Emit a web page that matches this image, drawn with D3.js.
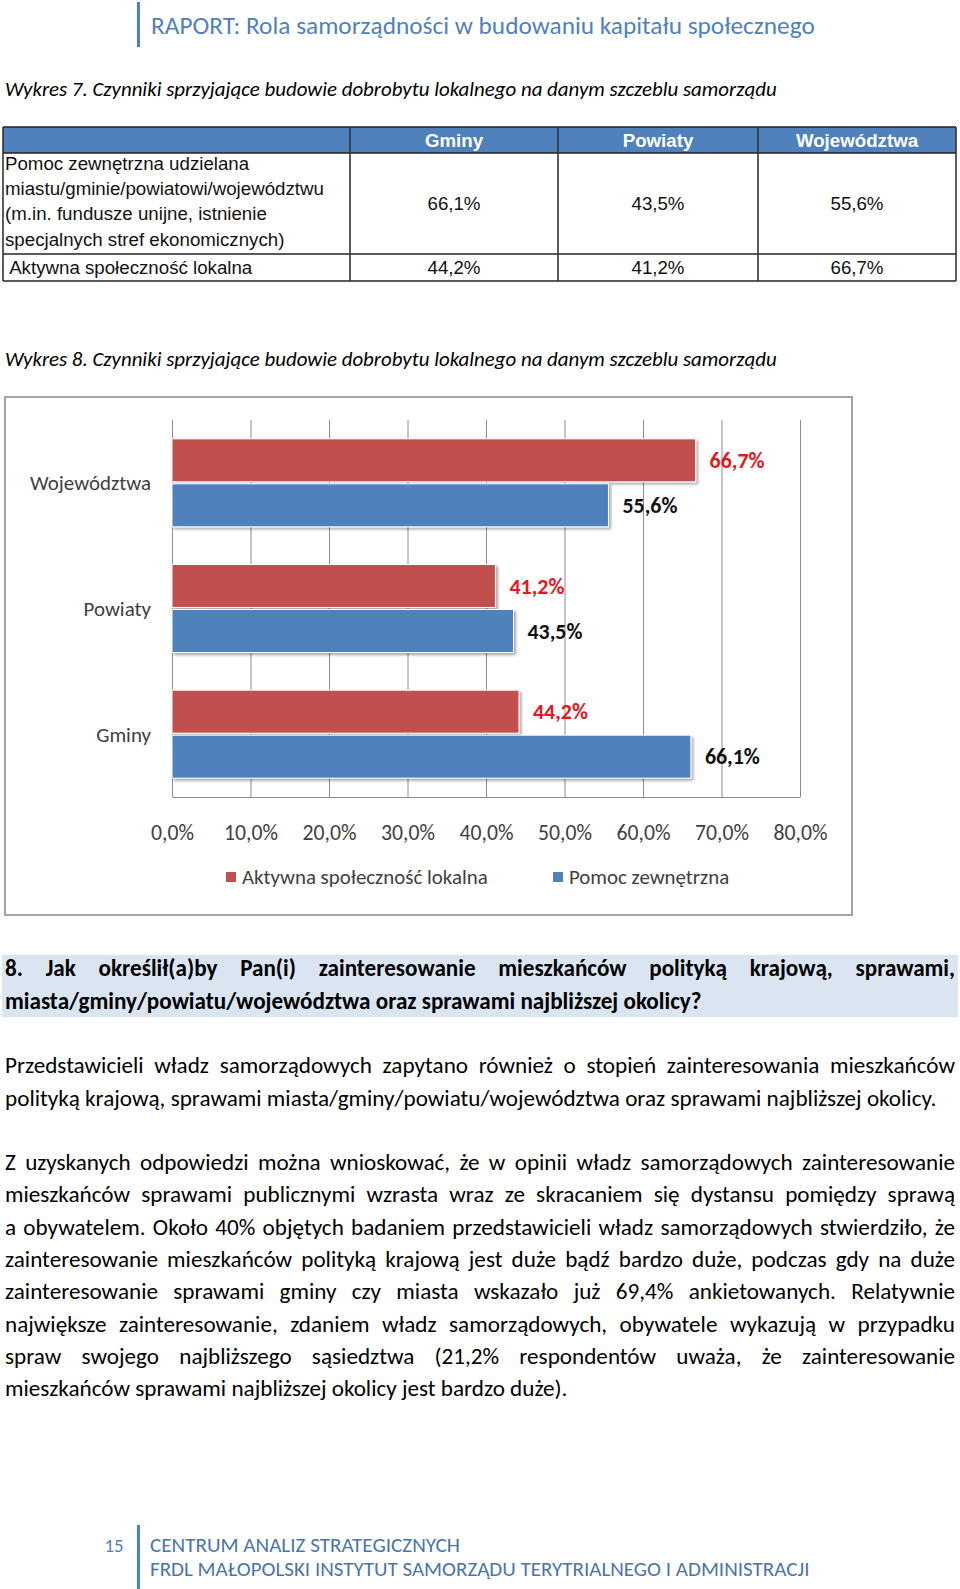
<!DOCTYPE html>
<html lang="pl">
<head>
<meta charset="utf-8">
<title>Wykres 8. Czynniki sprzyjające budowie dobrobytu lokalnego</title>
<script src="https://cdn.jsdelivr.net/npm/d3@7"></script>
<style>
  html, body { margin: 0; padding: 0; background: #fff; }
  svg { display: block; }
</style>
</head>
<body>
<svg id="page" width="960" height="1589"></svg>
<script>
// ---- data ----
const categories = ["Województwa", "Powiaty", "Gminy"];
const seriesNames = ["Aktywna społeczność lokalna", "Pomoc zewnętrzna"];
const aktywnaValues = [66.7, 41.2, 44.2];
const pomocValues = [55.6, 43.5, 66.1];
const xTicks = [0, 10, 20, 30, 40, 50, 60, 70, 80];

const tableColumns = ["Gminy", "Powiaty", "Województwa"];
const tableRowLabels = [
    ["Pomoc zewnętrzna udzielana", "miastu/gminie/powiatowi/województwu",
     "(m.in. fundusze unijne, istnienie", "specjalnych stref ekonomicznych)"],
    [" Aktywna społeczność lokalna"]
];

const headerTitle = "RAPORT: Rola samorządności w budowaniu kapitału społecznego";
const caption7 = "Wykres 7. Czynniki sprzyjające budowie dobrobytu lokalnego na danym szczeblu samorządu";
const caption8 = "Wykres 8. Czynniki sprzyjające budowie dobrobytu lokalnego na danym szczeblu samorządu";

const questionLines = [
    "8. Jak określił(a)by Pan(i) zainteresowanie mieszkańców polityką krajową, sprawami,",
    "miasta/gminy/powiatu/województwa oraz sprawami najbliższej okolicy?"
];
const para1Lines = [
    "Przedstawicieli władz samorządowych zapytano również o stopień zainteresowania mieszkańców",
    "polityką krajową, sprawami miasta/gminy/powiatu/województwa oraz sprawami najbliższej okolicy."
];
const para2Lines = [
    "Z uzyskanych odpowiedzi można wnioskować, że w opinii władz samorządowych zainteresowanie",
    "mieszkańców sprawami publicznymi wzrasta wraz ze skracaniem się dystansu pomiędzy sprawą",
    "a obywatelem. Około 40% objętych badaniem przedstawicieli władz samorządowych stwierdziło, że",
    "zainteresowanie mieszkańców polityką krajową jest duże bądź bardzo duże, podczas gdy na duże",
    "zainteresowanie sprawami gminy czy miasta wskazało już 69,4% ankietowanych. Relatywnie",
    "największe zainteresowanie, zdaniem władz samorządowych, obywatele wykazują w przypadku",
    "spraw swojego najbliższego sąsiedztwa (21,2% respondentów uważa, że zainteresowanie",
    "mieszkańców sprawami najbliższej okolicy jest bardzo duże)."
];
const footerPage = "15";
const footerLines = ["CENTRUM ANALIZ STRATEGICZNYCH",
                     "FRDL MAŁOPOLSKI INSTYTUT SAMORZĄDU TERYTRIALNEGO I ADMINISTRACJI"];

// ---- helpers ----
const SANS = "Carlito, Calibri, Lato, 'Open Sans', sans-serif";
const ARIAL = "'Liberation Sans', Arial, sans-serif";
const BLUE = "#4f81bd", RED = "#c0504d";

const ctx = document.createElement("canvas").getContext("2d");
function textWidth(str, size, weight = "normal", style = "normal", family = SANS) {
    ctx.font = `${style} ${weight} ${size}px ${family}`;
    return ctx.measureText(str).width;
}
// font size that makes str exactly `target` px wide
function fitSize(str, target, weight, style, family) {
    return 100 * target / textWidth(str, 100, weight, style, family);
}
const pct = v => d3.format(".1f")(v).replace(".", ",") + "%";

const svg = d3.select("#page");

function addText(g, str, x, y, size, opts = {}) {
    return g.append("text")
        .attr("x", x).attr("y", y).attr("dy", "0.35em")
        .attr("text-anchor", opts.anchor || "start")
        .style("font-family", opts.family || SANS)
        .style("font-size", size + "px")
        .style("font-weight", opts.weight || "normal")
        .style("font-style", opts.style || "normal")
        .attr("fill", opts.fill || "#000")
        .text(str);
}

// justified line: words spread from x0 to x1
function justifiedLine(g, str, y, size, weight, justify, x0 = 5, x1 = 955) {
    const t = g.append("text").attr("y", y).attr("dy", "0.35em")
        .style("font-family", SANS).style("font-size", size + "px")
        .style("font-weight", weight).attr("fill", "#000");
    if (!justify) { t.attr("x", x0).text(str); return; }
    const words = str.split(" ");
    const ws = words.map(w => textWidth(w, size, weight));
    const gap = (x1 - x0 - d3.sum(ws)) / (words.length - 1);
    let x = x0;
    words.forEach((w, i) => {
        t.append("tspan").attr("x", x).text(w);
        x += ws[i] + gap;
    });
}

// ---- page header ----
svg.append("rect").attr("x", 137).attr("y", 2).attr("width", 3).attr("height", 45).attr("fill", BLUE);
addText(svg, headerTitle, 151, 25, fitSize(headerTitle, 664), { fill: BLUE });

const capSize = fitSize(caption7, 772, "normal", "italic");
addText(svg, caption7, 5, 89, capSize, { style: "italic" });

// ---- table (Wykres 7) ----
const tbl = { x0: 3, x1: 956, y0: 127, yHead: 153, yRow: 254, y1: 281, cols: [350, 558, 758] };
const colEdges = [...tbl.cols, tbl.x1];
const colCenter = i => (colEdges[i] + colEdges[i + 1]) / 2;
const tg = svg.append("g");
const tSize = 18.7;

tg.append("rect").attr("x", tbl.x0).attr("y", tbl.y0)
    .attr("width", tbl.x1 - tbl.x0).attr("height", tbl.yHead - tbl.y0).attr("fill", BLUE);

tableColumns.forEach((c, i) => {
    addText(tg, c, colCenter(i), 140, tSize, { anchor: "middle", family: ARIAL, weight: "bold", fill: "#fff" });
});

const tableValues = [
    tableColumns.map(c => pomocValues[categories.indexOf(c)]),
    tableColumns.map(c => aktywnaValues[categories.indexOf(c)])
];

tableRowLabels[0].forEach((l, i) => addText(tg, l, 5, 163 + i * 25.4, tSize, { family: ARIAL, fill: "#111" }));
tableValues[0].forEach((v, i) => addText(tg, pct(v), colCenter(i), 203.5, tSize, { anchor: "middle", family: ARIAL, fill: "#111" }));
addText(tg, tableRowLabels[1][0], 5, 267.5, tSize, { family: ARIAL, fill: "#111" }).attr("xml:space", "preserve");
tableValues[1].forEach((v, i) => addText(tg, pct(v), colCenter(i), 267.5, tSize, { anchor: "middle", family: ARIAL, fill: "#111" }));

[tbl.y0, tbl.yHead, tbl.yRow, tbl.y1].forEach(y => {
    tg.append("line").attr("x1", tbl.x0).attr("x2", tbl.x1).attr("y1", y).attr("y2", y)
        .attr("stroke", "#222").attr("stroke-width", 1.3);
});
[tbl.x0, ...tbl.cols, tbl.x1].forEach(x => {
    tg.append("line").attr("x1", x).attr("x2", x).attr("y1", tbl.y0).attr("y2", tbl.y1)
        .attr("stroke", "#333").attr("stroke-width", 1.6);
});

// ---- chart (Wykres 8) ----
addText(svg, caption8, 5, 359, capSize, { style: "italic" });

const defs = svg.append("defs");
defs.append("filter").attr("id", "shadow").attr("x", "-5%").attr("y", "-20%").attr("width", "115%").attr("height", "160%")
    .append("feDropShadow").attr("dx", 2).attr("dy", 2).attr("stdDeviation", 1.4)
    .attr("flood-color", "#000").attr("flood-opacity", 0.35);

svg.append("rect").attr("x", 5).attr("y", 397).attr("width", 847).attr("height", 518)
    .attr("fill", "#fff").attr("stroke", "#a3a3a3").attr("stroke-width", 2);

const plot = { x0: 172, x1: 800, y0: 420, y1: 797 };
const x = d3.scaleLinear().domain([0, 80]).range([plot.x0, plot.x1]);
const y = d3.scaleBand().domain(categories).range([plot.y0, plot.y1]).paddingInner(0.3).paddingOuter(0.15);
const ys = d3.scaleBand().domain(seriesNames).range([0, y.bandwidth()]).paddingInner(0.045);
const color = d3.scaleOrdinal().domain(seriesNames).range([RED, BLUE]);

const tickSize = fitSize("10,0%", 54);
const chart = svg.append("g");

// gridlines + x labels
const xAxis = chart.append("g").attr("transform", `translate(0,${plot.y1})`)
    .call(d3.axisBottom(x).tickValues(xTicks).tickSize(-(plot.y1 - plot.y0)).tickSizeOuter(0).tickFormat(pct));
xAxis.select(".domain").attr("stroke", "#8c8c8c");
xAxis.selectAll(".tick line").attr("stroke", "#8c8c8c");
xAxis.selectAll(".tick text").attr("y", 35).attr("dy", "0.35em")
    .style("font-family", SANS).style("font-size", tickSize + "px").attr("fill", "#404040");

// category labels
const yAxis = chart.append("g").attr("transform", `translate(${plot.x0},0)`)
    .call(d3.axisLeft(y).tickSize(0).tickPadding(21));
yAxis.select(".domain").remove();
yAxis.selectAll(".tick text").attr("dy", "0.35em")
    .style("font-family", SANS).style("font-size", fitSize("Województwa", 121) + "px").attr("fill", "#404040");

// bars
const barData = categories.flatMap((c, i) => [
    { cat: c, series: seriesNames[0], value: aktywnaValues[i] },
    { cat: c, series: seriesNames[1], value: pomocValues[i] }
]);
chart.append("g").selectAll("rect").data(barData).join("rect")
    .attr("x", x(0))
    .attr("y", d => y(d.cat) + ys(d.series))
    .attr("width", d => x(d.value) - x(0))
    .attr("height", ys.bandwidth())
    .attr("fill", d => color(d.series))
    .attr("stroke", "#fff").attr("stroke-width", 1)
    .attr("filter", "url(#shadow)");

// value labels
const labelSize = fitSize("66,7%", 55, "bold");
chart.append("g").selectAll("text").data(barData).join("text")
    .attr("x", d => x(d.value) + 14)
    .attr("y", d => y(d.cat) + ys(d.series) + ys.bandwidth() / 2)
    .attr("dy", "0.35em")
    .style("font-family", SANS).style("font-size", labelSize + "px").style("font-weight", "bold")
    .attr("fill", d => d.series === seriesNames[0] ? "#e3191f" : "#111")
    .text(d => pct(d.value));

// legend
const legendX = [226, 553];
const legSize = fitSize(seriesNames[0], 246);
const leg = chart.append("g").selectAll("g").data(seriesNames).join("g")
    .attr("transform", (d, i) => `translate(${legendX[i]},877)`);
leg.append("rect").attr("x", 0).attr("y", -5).attr("width", 10).attr("height", 10).attr("fill", d => color(d));
leg.append("text").attr("x", 16).attr("dy", "0.35em")
    .style("font-family", SANS).style("font-size", legSize + "px").attr("fill", "#404040")
    .text(d => d);

// ---- text section ----
svg.append("rect").attr("x", 2).attr("y", 955).attr("width", 956).attr("height", 62).attr("fill", "#dbe5f1");
const qSize = fitSize(questionLines[1], 697, "bold");
const txt = svg.append("g");
questionLines.forEach((l, i) => justifiedLine(txt, l, 968 + i * 32.5, qSize, "bold", i < questionLines.length - 1));

const bodySize = fitSize(para1Lines[1], 932);
para1Lines.forEach((l, i) => justifiedLine(txt, l, 1065 + i * 32.4, bodySize, "normal", i < para1Lines.length - 1));
para2Lines.forEach((l, i) => justifiedLine(txt, l, 1162 + i * 32.3, bodySize, "normal", i < para2Lines.length - 1));

// ---- footer ----
svg.append("rect").attr("x", 137).attr("y", 1525).attr("width", 3).attr("height", 64).attr("fill", BLUE);
addText(svg, footerPage, 114, 1545, fitSize(footerPage, 19), { anchor: "middle", fill: BLUE });
addText(svg, footerLines[0], 150, 1545, fitSize(footerLines[0], 310), { fill: "#4a75a8" });
addText(svg, footerLines[1], 150, 1569, fitSize(footerLines[1], 660), { fill: "#4a75a8" });
</script>
</body>
</html>
